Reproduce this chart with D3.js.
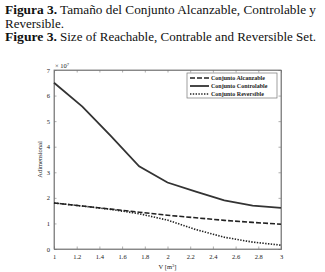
<!DOCTYPE html>
<html>
<head>
    <style>
        body { margin: 0; background: #ffffff; }
        .title { font-family: "Liberation Serif", serif; font-size: 12px; fill: #111; }
        .tick text { font-family: "Liberation Serif", serif; font-size: 6.5px; fill: #222; }
        .axis-label { font-family: "Liberation Serif", serif; font-size: 6.5px; fill: #222; }
        .legend text { font-family: "Liberation Serif", serif; font-size: 6px; font-weight: bold; fill: #222; }
    </style>
    <script src="https://d3js.org/d3.v7.min.js"></script>
</head>
<body>
    <div id="chart"></div>
    <script>
        var volumes = [1, 1.25, 1.5, 1.75, 2, 2.25, 2.5, 2.75, 3];
        var alcanzable = [1.8, 1.68, 1.56, 1.44, 1.32, 1.22, 1.12, 1.04, 0.97];
        var controlable = [6.5, 5.57, 4.42, 3.23, 2.6, 2.24, 1.9, 1.7, 1.61];
        var reversible = [1.8, 1.68, 1.55, 1.38, 1.13, 0.76, 0.46, 0.27, 0.15];
        var xTicks = [1, 1.2, 1.4, 1.6, 1.8, 2, 2.2, 2.4, 2.6, 2.8, 3];
        var yTicks = [0, 1, 2, 3, 4, 5, 6, 7];
        var seriesNames = ['Conjunto Alcanzable', 'Conjunto Controlable', 'Conjunto Reversible'];

        var margin = { top: 70, right: 44, bottom: 23, left: 54 };
        var width = 325 - margin.left - margin.right;
        var height = 272 - margin.top - margin.bottom;

        var root = d3.select('#chart')
            .append('svg')
            .attr('width', 325)
            .attr('height', 272);

        // caption, bold label and rest as separate texts
        var cap = [
            { b: 'Figura 3.', t: 'Tamaño del Conjunto Alcanzable, Controlable y', y: 14, len: 256 },
            { b: '', t: 'Reversible.', y: 27.5, len: 59 },
            { b: 'Figure 3.', t: 'Size of Reachable, Contrable and Reversible Set.', y: 41, len: 256 }
        ];
        cap.forEach(function(c) {
            if (c.b) {
                root.append('text').attr('class', 'title')
                    .attr('x', 5).attr('y', c.y)
                    .attr('textLength', 52).attr('lengthAdjust', 'spacingAndGlyphs')
                    .style('font-weight', 'bold').text(c.b);
            }
            root.append('text').attr('class', 'title')
                .attr('x', c.b ? 60 : 5).attr('y', c.y)
                .attr('textLength', c.len).attr('lengthAdjust', 'spacingAndGlyphs')
                .text(c.t);
        });

        var svg = root.append('g')
            .attr('transform', 'translate(' + margin.left + ',' + margin.top + ')');

        var x = d3.scaleLinear().domain([1, 3]).range([0, width]);
        var y = d3.scaleLinear().domain([0, 7]).range([height, 0]);

        svg.append('rect')
            .attr('width', width).attr('height', height)
            .attr('fill', 'none').attr('stroke', '#777').attr('stroke-width', 0.8);

        svg.append('g')
            .attr('transform', 'translate(0,' + height + ')')
            .call(d3.axisBottom(x).tickValues(xTicks).tickSize(-2.5).tickPadding(5).tickFormat(d3.format('~g')));
        svg.append('g')
            .call(d3.axisLeft(y).tickValues(yTicks).tickSize(-2.5).tickPadding(4).tickFormat(d3.format('d')));
        svg.append('g')
            .call(d3.axisTop(x).tickValues(xTicks).tickSize(-2.5).tickFormat(''));
        svg.append('g')
            .attr('transform', 'translate(' + width + ',0)')
            .call(d3.axisRight(y).tickValues(yTicks).tickSize(-2.5).tickFormat(''));
        svg.selectAll('.domain').attr('stroke', '#777').attr('stroke-width', 0.8);
        svg.selectAll('.tick line').attr('stroke', '#777').attr('stroke-width', 0.6);

        svg.append('text')
            .attr('class', 'axis-label')
            .attr('x', 1).attr('y', -2)
            .html('× 10<tspan dy="-2" font-size="4.5px">7</tspan>');

        svg.append('text')
            .attr('class', 'axis-label')
            .attr('transform', 'rotate(-90)')
            .attr('x', -height / 2).attr('y', -12)
            .style('text-anchor', 'middle')
            .text('Adimensional');

        svg.append('text')
            .attr('class', 'axis-label')
            .attr('x', width / 2).attr('y', height + 20)
            .style('text-anchor', 'middle')
            .html('V [m<tspan dy="-2" font-size="4.5px">3</tspan><tspan dy="2">]</tspan>');

        var styles = [
            { data: alcanzable, dash: '5,2', w: 1.6, color: '#222' },
            { data: controlable, dash: null, w: 1.8, color: '#333' },
            { data: reversible, dash: '1.4,1.4', w: 1.6, color: '#222' }
        ];

        var line = d3.line()
            .x(function(d) { return x(d[0]); })
            .y(function(d) { return y(d[1]); });

        styles.forEach(function(s) {
            svg.append('path')
                .datum(volumes.map(function(v, i) { return [v, s.data[i]]; }))
                .attr('d', line)
                .attr('fill', 'none')
                .attr('stroke', s.color)
                .attr('stroke-width', s.w)
                .attr('stroke-dasharray', s.dash);
        });

        // legend
        var legend = svg.append('g')
            .attr('class', 'legend')
            .attr('transform', 'translate(' + (width - 94) + ',3)');
        legend.append('rect')
            .attr('width', 90).attr('height', 25)
            .attr('fill', '#fff').attr('stroke', '#777').attr('stroke-width', 0.7);
        seriesNames.forEach(function(n, i) {
            var row = legend.append('g').attr('transform', 'translate(0,' + (5 + i * 8) + ')');
            row.append('line')
                .attr('x1', 3).attr('x2', 22)
                .attr('stroke', styles[i].color)
                .attr('stroke-width', styles[i].w)
                .attr('stroke-dasharray', styles[i].dash);
            row.append('text').attr('x', 24).attr('y', 2).text(n);
        });
    </script>
</body>
</html>
